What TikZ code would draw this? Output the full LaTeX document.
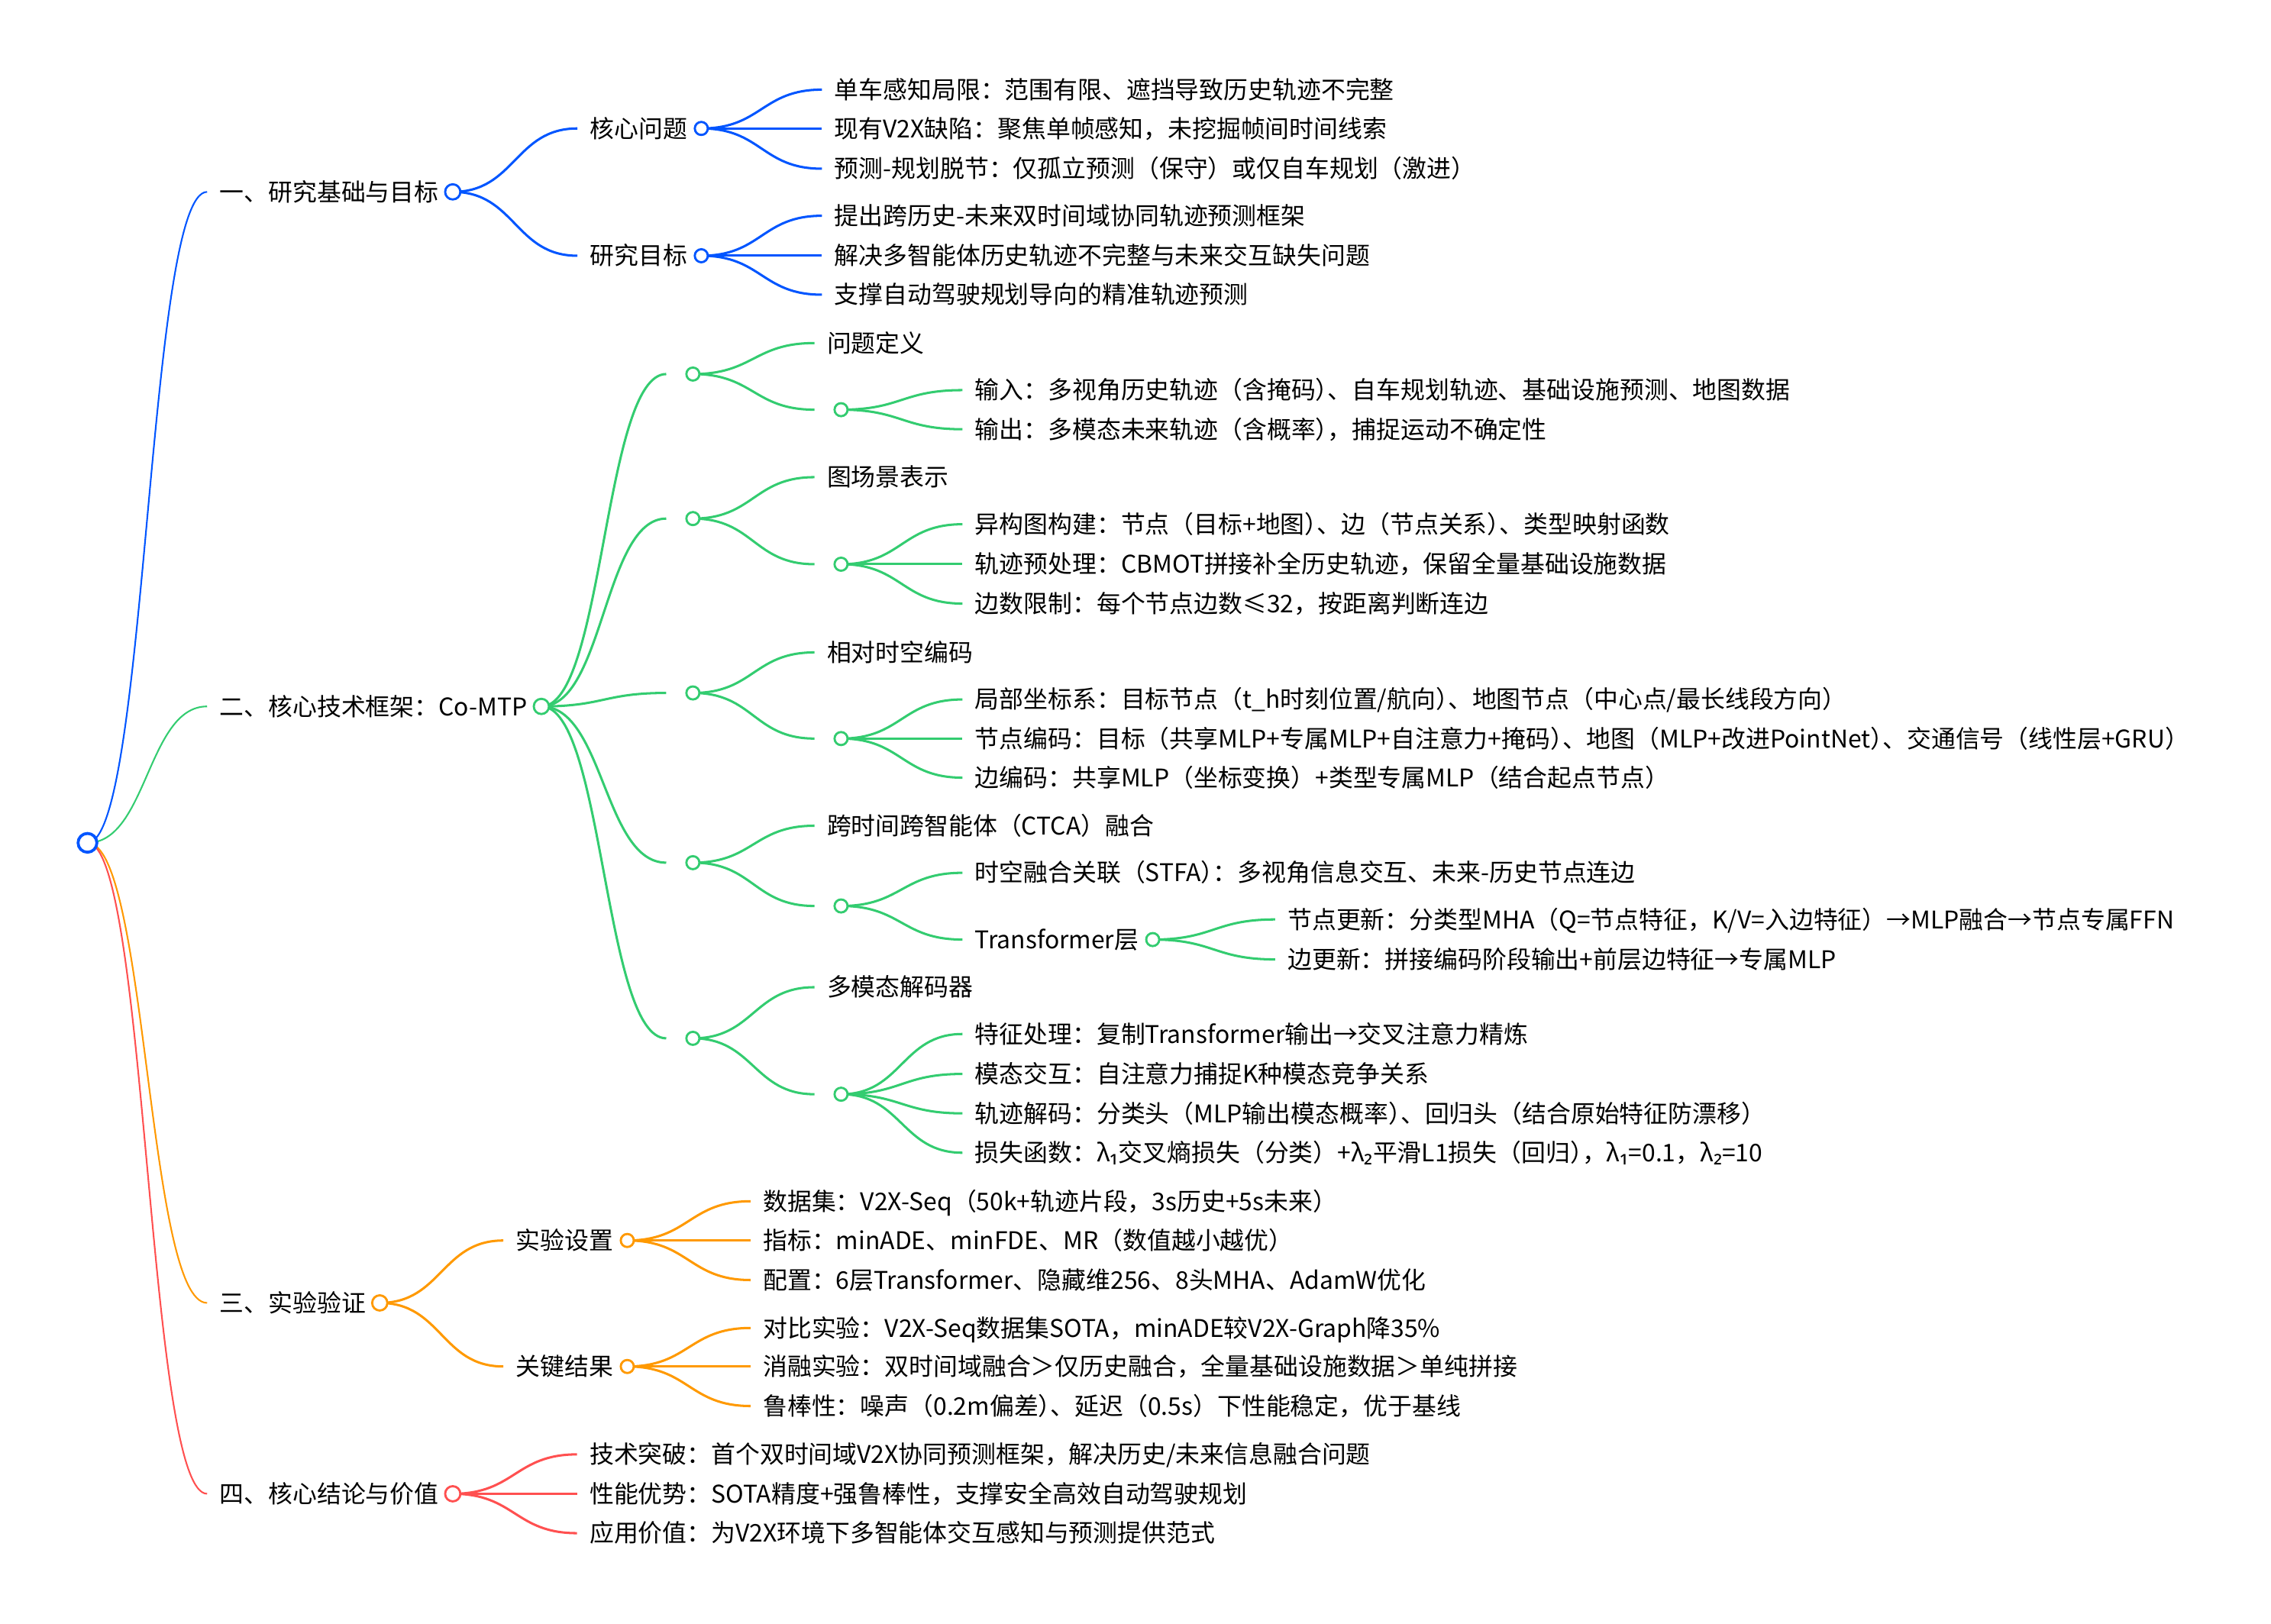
\documentclass[tikz,border=0pt]{standalone}
\usepackage{fontspec}
\setmainfont{Noto Sans CJK SC}
\newfontfamily\subfont{Noto Sans}
\newcommand{\sub}[1]{{\subfont #1}}
\newcommand{\hp}[1]{{\addfontfeature{RawFeature=+halt}#1}}
\usetikzlibrary{calc}
\definecolor{mblue}{HTML}{0055FF}
\definecolor{mgreen}{HTML}{33CC70}
\definecolor{morange}{HTML}{FF9900}
\definecolor{mred}{HTML}{FF5050}

\begin{document}
\begin{tikzpicture}[
x=1pt,y=-1pt,
txt/.style={
  anchor=west,
  inner xsep=8.5pt,
  inner ysep=0pt,
  text height=15pt,
  text depth=2.5pt,
  font=\fontsize{16.8}{20}\selectfont},
mydot/.style={
  draw=#1,
  circle,
  fill=white,
  line width=1.5pt,
  inner sep=0pt,
  minimum size=9pt},
link/.style={
  line width=1.6pt,
  to path={let \p1=(\tikztostart), \p2=(\tikztotarget),
    \p3=($(\p1)!.5!(\p2)$) in
    .. controls (\x3,\y1) and (\x3,\y2) .. (\tikztotarget)}}
]
\useasboundingbox (0,0) rectangle (1568,1121);
\coordinate (r) at (60.4,582);

% 一
\node[txt] (base) at (143,132.5) {一、研究基础与目标};
\node[txt] (prob) at (398.6,88.7) {核心问题};
\node[txt] (goal) at (398.6,176.6) {研究目标};
\node[txt] (prob1) at (567.5,61.9) {单车感知局限：范围有限、遮挡导致历史轨迹不完整};
\node[txt] (prob2) at (567.5,88.7) {现有V2X缺陷：聚焦单帧感知，未挖掘帧间时间线索};
\node[txt] (prob3) at (567.5,116.5) {预测-规划脱节：仅孤立预测（保守）或仅自车规划（激进）};
\node[txt] (goal1) at (567.5,149) {提出跨历史-未来双时间域协同轨迹预测框架};
\node[txt] (goal2) at (567.5,176.6) {解决多智能体历史轨迹不完整与未来交互缺失问题};
\node[txt] (goal3) at (567.5,203.5) {支撑自动驾驶规划导向的精准轨迹预测};

% 二
\node[txt] (frame) at (143,487.8) {二、核心技术框架：Co-MTP};
\foreach \n/\y in {s1/258.3,s2/358.1,s3/478.5,s4/595.7,s5/717}
  \node[txt] (\n) at (460,\y) {};
\node[txt] (s1t) at (562.3,236.9) {问题定义};
\node[txt] (s1e) at (562.3,282.9) {};
\node[txt] (s2t) at (562.3,329.5) {图场景表示};
\node[txt] (s2e) at (562.3,389.6) {};
\node[txt] (s3t) at (562.3,450.5) {相对时空编码};
\node[txt] (s3e) at (562.3,510) {};
\node[txt] (s4t) at (562.3,570.2) {跨时间跨智能体（CTCA）融合};
\node[txt] (s4e) at (562.3,625.6) {};
\node[txt] (s5t) at (562.3,681.7) {多模态解码器};
\node[txt] (s5e) at (562.3,755.6) {};
\node[txt] (in) at (664.5,269.4) {输入：多视角历史轨迹（含掩码\hp{）}、自车规划轨迹、基础设施预测、地图数据};
\node[txt] (out) at (664.5,296.4) {输出：多模态未来轨迹（含概率\hp{）}，捕捉运动不确定性};
\node[txt] (graph1) at (664.5,362) {异构图构建：节点（目标+地图\hp{）}、边（节点关系\hp{）}、类型映射函数};
\node[txt] (graph2) at (664.5,389.6) {轨迹预处理：CBMOT拼接补全历史轨迹，保留全量基础设施数据};
\node[txt] (graph3) at (664.5,416.8) {边数限制：每个节点边数≤32，按距离判断连边};
\node[txt] (enc1) at (664.5,483) {局部坐标系：目标节点（t\_h时刻位置/航向\hp{）}、地图节点（中心点/最长线段方向）};
\node[txt] (enc2) at (664.5,510) {节点编码：目标（共享MLP+专属MLP+自注意力+掩码\hp{）}、地图（MLP+改进PointNet\hp{）}、交通信号（线性层+GRU）};
\node[txt] (enc3) at (664.5,537) {边编码：共享MLP（坐标变换）+类型专属MLP（结合起点节点）};
\node[txt] (stfa) at (664.5,602.7) {时空融合关联（STFA\hp{）}：多视角信息交互、未来-历史节点连边};
\node[txt] (trf) at (664.5,648.8) {Transformer层};
\node[txt] (trf1) at (880.4,634.9) {节点更新：分类型MHA（Q=节点特征，K/V=入边特征）→MLP融合→节点专属FFN};
\node[txt] (trf2) at (880.4,662.5) {边更新：拼接编码阶段输出+前层边特征→专属MLP};
\node[txt] (dec1) at (664.5,714) {特征处理：复制Transformer输出→交叉注意力精炼};
\node[txt] (dec2) at (664.5,741.6) {模态交互：自注意力捕捉K种模态竞争关系};
\node[txt] (dec3) at (664.5,768.8) {轨迹解码：分类头（MLP输出模态概率\hp{）}、回归头（结合原始特征防漂移）};
\node[txt] (dec4) at (664.5,796) {损失函数：λ\sub{₁}交叉熵损失（分类）+λ\sub{₂}平滑L1损失（回归\hp{）}，λ\sub{₁}=0.1，λ\sub{₂}=10};

% 三
\node[txt] (expt) at (143,899.7) {三、实验验证};
\node[txt] (setup) at (347.5,856.6) {实验设置};
\node[txt] (res) at (347.5,943.6) {关键结果};
\node[txt] (setup1) at (518.2,829.5) {数据集：V2X-Seq（50k+轨迹片段，3s历史+5s未来）};
\node[txt] (setup2) at (518.2,856.6) {指标：minADE、minFDE、MR（数值越小越优）};
\node[txt] (setup3) at (518.2,883.9) {配置：6层Transformer、隐藏维256、8头MHA、AdamW优化};
\node[txt] (res1) at (518.2,917) {对比实验：V2X-Seq数据集SOTA，minADE较V2X-Graph降35\%};
\node[txt] (res2) at (518.2,943.6) {消融实验：双时间域融合＞仅历史融合，全量基础设施数据＞单纯拼接};
\node[txt] (res3) at (518.2,970.9) {鲁棒性：噪声（0.2m偏差\hp{）}、延迟（0.5s）下性能稳定，优于基线};

% 四
\node[txt] (concl) at (143,1031.5) {四、核心结论与价值};
\node[txt] (concl1) at (398.4,1004.3) {技术突破：首个双时间域V2X协同预测框架，解决历史/未来信息融合问题};
\node[txt] (concl2) at (398.4,1031.5) {性能优势：SOTA精度+强鲁棒性，支撑安全高效自动驾驶规划};
\node[txt] (concl3) at (398.4,1058.7) {应用价值：为V2X环境下多智能体交互感知与预测提供范式};

\foreach \n in {base,prob,goal,frame,s1,s2,s3,s4,s5,s1e,s2e,s3e,s4e,s5e,trf,expt,setup,res,concl}
  \coordinate (\n-o) at ([xshift=1pt]\n.east);

% links
\draw[link,line width=1.1pt,mblue] (r) to (base.west);
\draw[link,line width=1.1pt,mgreen] (r) to (frame.west);
\draw[link,line width=1.1pt,morange] (r) to (expt.west);
\draw[link,line width=1.1pt,mred] (r) to (concl.west);
\foreach \a/\b in {base/prob,base/goal,prob/prob1,prob/prob2,prob/prob3,
    goal/goal1,goal/goal2,goal/goal3}
  \draw[link,mblue] (\a-o) to (\b.west);
\foreach \a/\b in {frame/s1,frame/s2,frame/s3,frame/s4,frame/s5,
    s1/s1t,s1/s1e,s2/s2t,s2/s2e,s3/s3t,s3/s3e,s4/s4t,s4/s4e,s5/s5t,s5/s5e,
    s1e/in,s1e/out,s2e/graph1,s2e/graph2,s2e/graph3,s3e/enc1,s3e/enc2,s3e/enc3,
    s4e/stfa,s4e/trf,trf/trf1,trf/trf2,s5e/dec1,s5e/dec2,s5e/dec3,s5e/dec4}
  \draw[link,mgreen] (\a-o) to (\b.west);
\foreach \a/\b in {expt/setup,expt/res,setup/setup1,setup/setup2,setup/setup3,
    res/res1,res/res2,res/res3}
  \draw[link,morange] (\a-o) to (\b.west);
\foreach \b in {concl1,concl2,concl3}
  \draw[link,mred] (concl-o) to (\b.west);

% dots
\foreach \n/\k in {base/mblue,frame/mgreen,expt/morange,concl/mred}
  \node[mydot=\k,minimum size=10.5pt] at (\n-o) {};
\foreach \n/\k in {prob/mblue,goal/mblue,s1/mgreen,s2/mgreen,s3/mgreen,s4/mgreen,
    s5/mgreen,s1e/mgreen,s2e/mgreen,s3e/mgreen,s4e/mgreen,s5e/mgreen,trf/mgreen,
    setup/morange,res/morange}
  \node[mydot=\k] at (\n-o) {};
\node[mydot=mblue,line width=2pt,minimum size=13pt] at (r) {};
\end{tikzpicture}
\end{document}
